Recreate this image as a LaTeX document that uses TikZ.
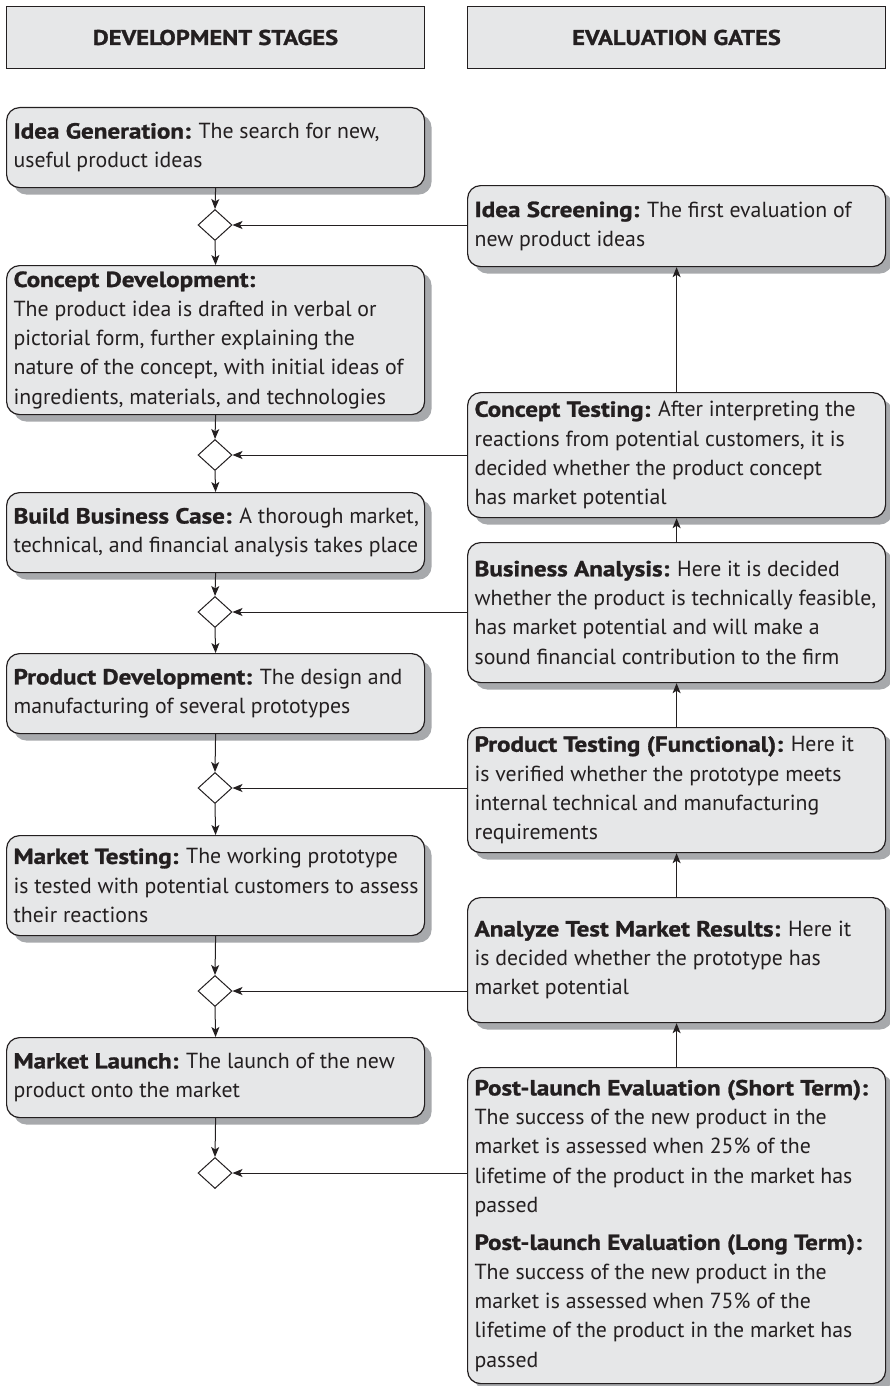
\documentclass[tikz,border=0pt]{standalone}
\usepackage{fontspec}
\setmainfont{PT Sans}[BoldFeatures={FakeStretch=1.15,FakeBold=1.2}]
\usetikzlibrary{shapes.geometric,shadows,arrows.meta}
\definecolor{boxfill}{HTML}{E6E7E8}
\definecolor{shade}{HTML}{A7A9AC}
\definecolor{ink}{HTML}{231F20}

\begin{document}
\begin{tikzpicture}[x=1pt,y=-1pt,
  every node/.style={text=ink},
  header/.style={draw=ink, line width=1pt, fill=boxfill, anchor=north west,
    minimum width=418pt, minimum height=62pt, inner sep=0pt,
    font=\fontsize{21.3}{25}\selectfont\bfseries},
  card/.style={draw=ink, line width=1.2pt, fill=boxfill, rounded corners=13pt,
    anchor=north west, minimum width=418pt, text width=404pt,
    inner xsep=7pt, inner ysep=0pt, align=flush left,
    font=\fontsize{21.8}{29.3}\selectfont,
    drop shadow={shadow xshift=7pt, shadow yshift=-7pt, fill=shade, opacity=1}},
  gate/.style={draw=ink, line width=1pt, fill=white, shape=diamond,
    minimum width=34pt, minimum height=31pt, inner sep=0pt},
  flow/.style={draw=ink, line width=1pt,
    -{Stealth[length=10pt,width=8pt,inset=2.5pt]}}
]
\useasboundingbox (0,0) rectangle (890,1386);

% column headers
\node[header] (hdev) at (6,6) {DEVELOPMENT STAGES};
\node[header] (hgate) at (467,6) {EVALUATION GATES};

% development stages
\node[card, minimum height=80pt] (ideagen) at (6,107)
  {\textbf{Idea Generation:} The search for new,\\ useful product ideas};
\node[card, minimum height=149pt] (conceptdev) at (6,265)
  {\textbf{Concept Development:}\\
   The product idea is drafted in verbal or\\
   pictorial form, further explaining the\\
   nature of the concept, with initial ideas of\\
   ingredients, materials, and technologies};
\node[card, minimum height=80pt] (buildbc) at (6,492)
  {\mbox{\textbf{Build Business Case:} A thorough market,}\\
   \mbox{technical, and financial analysis takes place}};
\node[card, minimum height=80pt] (proddev) at (6,653)
  {\textbf{Product Development:} The design and\\
   manufacturing of several prototypes};
\node[card, minimum height=100pt] (mkttest) at (6,835)
  {\textbf{Market Testing:} The working prototype\\
   \mbox{is tested with potential customers to assess}\\
   their reactions};
\node[card, minimum height=80pt] (launch) at (6,1037)
  {\textbf{Market Launch:} The launch of the new\\
   product onto the market};

% evaluation gates
\node[card, minimum height=81pt] (screen) at (467,185)
  {\textbf{Idea Screening:} The first evaluation of\\
   new product ideas};
\node[card, minimum height=125pt] (concepttest) at (467,392)
  {\textbf{Concept Testing:} After interpreting the\\
   reactions from potential customers, it is\\
   decided whether the product concept\\
   has market potential};
\node[card, minimum height=140pt] (busanalysis) at (467,542)
  {\textbf{Business Analysis:} Here it is decided\\
   \mbox{whether the product is technically feasible,}\\
   has market potential and will make a\\
   sound financial contribution to the firm};
\node[card, minimum height=125pt] (prodtest) at (467,727)
  {\mbox{\textbf{Product Testing (Functional):} Here it}\\
   is verified whether the prototype meets\\
   internal technical and manufacturing\\
   requirements};
\node[card, minimum height=125pt] (analyze) at (467,897)
  {\mbox{\textbf{Analyze Test Market Results:} Here it}\\
   is decided whether the prototype has\\
   market potential};
\node[card, minimum height=316pt] (postlaunch) at (467,1067)
  {\mbox{\textbf{Post-launch Evaluation (Short Term):}}\\
   The success of the new product in the\\
   market is assessed when 25\% of the\\
   lifetime of the product in the market has\\
   passed\\[8pt]
   \mbox{\textbf{Post-launch Evaluation (Long Term):}}\\
   The success of the new product in the\\
   market is assessed when 75\% of the\\
   lifetime of the product in the market has\\
   passed};

% decision gates
\node[gate] (g1) at (215,225) {};
\node[gate] (g2) at (215,455) {};
\node[gate] (g3) at (215,612) {};
\node[gate] (g4) at (215,788) {};
\node[gate] (g5) at (215,991) {};
\node[gate] (g6) at (215,1173) {};

% stage flow
\draw[flow] (ideagen.south) -- (g1.north);
\draw[flow] (g1.south) -- (conceptdev.north);
\draw[flow] (conceptdev.south) -- (g2.north);
\draw[flow] (g2.south) -- (buildbc.north);
\draw[flow] (buildbc.south) -- (g3.north);
\draw[flow] (g3.south) -- (proddev.north);
\draw[flow] (proddev.south) -- (g4.north);
\draw[flow] (g4.south) -- (mkttest.north);
\draw[flow] (mkttest.south) -- (g5.north);
\draw[flow] (g5.south) -- (launch.north);
\draw[flow] (launch.south) -- (g6.north);

% gate feedback into the stages
\draw[flow] (screen.west |- g1) -- (g1.east);
\draw[flow] (concepttest.west |- g2) -- (g2.east);
\draw[flow] (busanalysis.west |- g3) -- (g3.east);
\draw[flow] (prodtest.west |- g4) -- (g4.east);
\draw[flow] (analyze.west |- g5) -- (g5.east);
\draw[flow] (postlaunch.west |- g6) -- (g6.east);

% evaluation chain
\draw[flow] (concepttest.north) -- (screen.south);
\draw[flow] (busanalysis.north) -- (concepttest.south);
\draw[flow] (prodtest.north) -- (busanalysis.south);
\draw[flow] (analyze.north) -- (prodtest.south);
\draw[flow] (postlaunch.north) -- (analyze.south);
\end{tikzpicture}
\end{document}
